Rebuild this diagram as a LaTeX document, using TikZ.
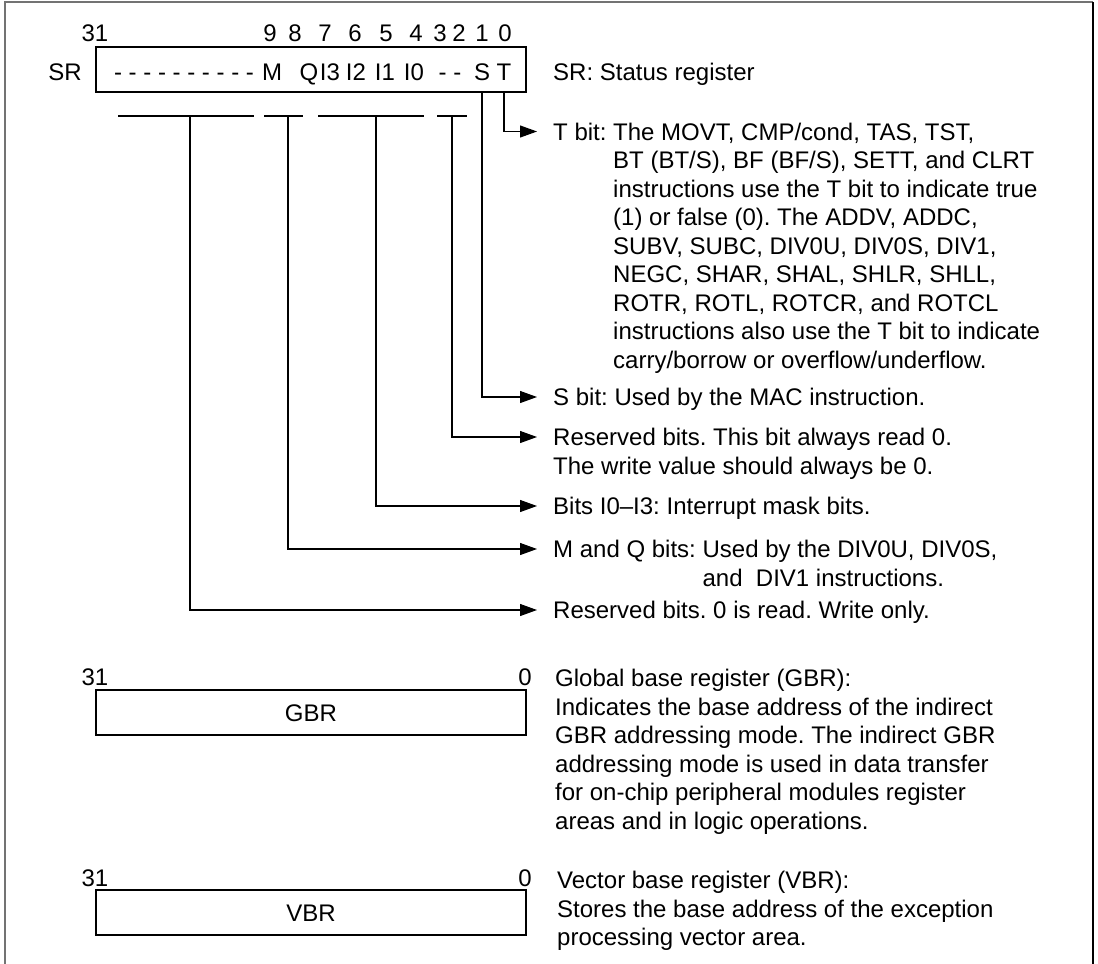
\documentclass[tikz,border=0pt]{standalone}
\usepackage{fontspec}
\setmainfont{Liberation Sans}
\usetikzlibrary{arrows.meta}
\frenchspacing

\begin{document}
\begin{tikzpicture}[x=1pt,y=-1pt,
    txt/.style={font=\fontsize{24}{28.5}\selectfont, inner sep=0pt, anchor=base},
    desc/.style={txt, anchor=base west, inner xsep=16pt},
    regbox/.style={draw, line width=1.4pt, minimum width=430pt, minimum height=45pt, inner sep=0pt},
    lead/.style={line width=1.1pt},
    arr/.style={lead, -{Triangle[length=17pt,width=12pt]}},
    frame/.style={line width=1.2pt}]
    \useasboundingbox (0,0) rectangle (1098,964);

    % Frame
    \draw[frame, black!55] (5,964) -- (5,2) -- (1093,2);
    \draw[frame] (1093,2) -- (1093,964);

    % SR register
    \node[regbox] (sr) at (311,69.5) {};
    \node[txt] (srlbl) at (65,80.5) {SR};
    \node[txt] (n31) at (95,41.5) {31};
    \foreach \b/\x in {9/270,8/295,7/325,6/355,5/386,4/416,3/440,2/459,1/482,0/505}
        \node[txt] (n\b) at (\x,41.5) {\b};

    % Bits
    \node[txt] (bdash) at (184,80.5) {- - - - - - - - - -};
    \node[txt] (bM) at (272,80.5) {M};
    \node[txt] (bQ) at (309,80.5) {Q};
    \node[txt] (bI3) at (330,80.5) {I3};
    \node[txt] (bI2) at (356,80.5) {I2};
    \node[txt] (bI1) at (385,80.5) {I1};
    \node[txt] (bI0) at (414,80.5) {I0};
    \node[txt] (brs) at (450,80.5) {- -};
    \node[txt] (bS) at (482,80.5) {S};
    \node[txt] (bT) at (504,80.5) {T};

    % Brackets under the fields
    \draw[lead] (118,116) -- (254,116) (264,116) -- (303,116)
                (318,116) -- (424,116) (437,116) -- (467,116);
    \coordinate (kRb) at (190,116);
    \coordinate (kMQ) at (288,116);
    \coordinate (kI) at (376,116);
    \coordinate (kRa) at (452,116);

    % Descriptions
    \node[desc] (srdesc) at (537,80) {SR: Status register};
    \node[desc] (dT) at (537,140) {\begin{tabular}[t]{@{}l@{ }l@{}}
        T bit: & The MOVT, CMP/cond, TAS, TST,\\
        & BT (BT/S), BF (BF/S), SETT, and CLRT\\
        & instructions use the T bit to indicate true\\
        & (1) or false (0). The ADDV, ADDC,\\
        & SUBV, SUBC, DIV0U, DIV0S, DIV1,\\
        & NEGC, SHAR, SHAL, SHLR, SHLL,\\
        & ROTR, ROTL, ROTCR, and ROTCL\\
        & instructions also use the T bit to indicate\\
        & carry/borrow or overflow/underflow.
        \end{tabular}};
    \node[desc] (dS) at (537,405.5) {S bit: Used by the MAC instruction.};
    \node[desc] (dRa) at (537,445.5) {\begin{tabular}[t]{@{}l@{}}
        Reserved bits. This bit always read 0.\\
        The write value should always be 0.
        \end{tabular}};
    \node[desc] (dI) at (537,514.5) {Bits I0--I3: Interrupt mask bits.};
    \node[desc] (dMQ) at (537,557.5) {\begin{tabular}[t]{@{}l@{ }l@{}}
        M and Q bits: & Used by the DIV0U, DIV0S,\\
        & and\ \ DIV1 instructions.
        \end{tabular}};
    \node[desc] (dRb) at (537,618.5) {Reserved bits. 0 is read. Write only.};

    % Leaders
    \draw[arr] (bT |- sr.south) |- ([yshift=8.5pt]dT.base west);
    \draw[arr] (bS |- sr.south) |- ([yshift=8.5pt]dS.base west);
    \draw[arr] (kRa) |- ([yshift=8.5pt]dRa.base west);
    \draw[arr] (kI) |- ([yshift=8.5pt]dI.base west);
    \draw[arr] (kMQ) |- ([yshift=8.5pt]dMQ.base west);
    \draw[arr] (kRb) |- ([yshift=8.5pt]dRb.base west);

    % GBR
    \node[regbox] (gbr) at (311,712.5) {};
    \node[txt] (gbrlbl) at (311,721.5) {GBR};
    \node[txt] (g31) at (95,685) {31};
    \node[txt] (g0) at (525,685) {0};
    \node[desc] (gbrdesc) at (539,686.5) {\begin{tabular}[t]{@{}l@{}}
        Global base register (GBR):\\
        Indicates the base address of the indirect\\
        GBR addressing mode. The indirect GBR\\
        addressing mode is used in data transfer\\
        for on-chip peripheral modules register\\
        areas and in logic operations.
        \end{tabular}};

    % VBR
    \node[regbox] (vbr) at (311,912.5) {};
    \node[txt] (vbrlbl) at (311,921.5) {VBR};
    \node[txt] (v31) at (95,886.5) {31};
    \node[txt] (v0) at (525,886.5) {0};
    \node[desc] (vbrdesc) at (541,888.5) {\begin{tabular}[t]{@{}l@{}}
        Vector base register (VBR):\\
        Stores the base address of the exception\\
        processing vector area.
        \end{tabular}};
\end{tikzpicture}
\end{document}
